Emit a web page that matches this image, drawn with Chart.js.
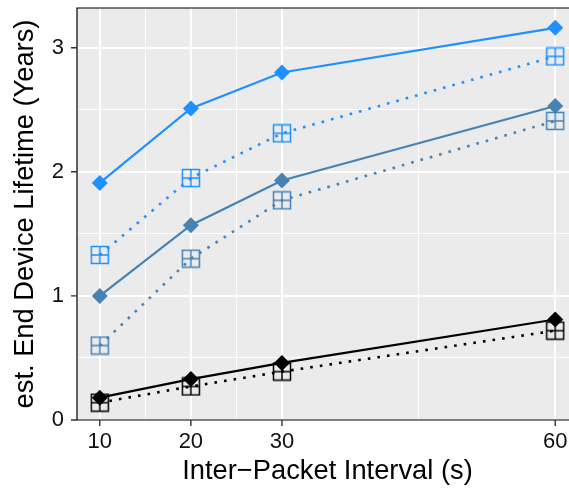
<!DOCTYPE html>
<html>
<head>
<meta charset="utf-8">
<script src="https://cdn.jsdelivr.net/npm/chart.js@4/dist/chart.umd.min.js"></script>
<style>
  html, body { margin: 0; padding: 0; background: #fff; overflow: hidden; }
  #wrap { width: 578px; height: 491px; }
</style>
</head>
<body>
<div id="wrap"><canvas id="chart"></canvas></div>
<script>
// data
const intervals = [10, 20, 30, 60];
const blueSolid = [1.91, 2.51, 2.80, 3.16];
const blueDotted = [1.33, 1.95, 2.31, 2.93];
const steelSolid = [1.00, 1.57, 1.93, 2.53];
const steelDotted = [0.60, 1.30, 1.77, 2.41];
const blackSolid = [0.18, 0.33, 0.46, 0.81];
const blackDotted = [0.14, 0.27, 0.39, 0.72];

const xMajor = [10, 20, 30, 60];
const xMinor = [15, 25, 45];
const yMajor = [0, 1, 2, 3];
const yMinor = [0.5, 1.5, 2.5];

const BLUE = '#1E90FF', STEEL = '#4682B4', BLACK = '#000000';

// square with a cross (ggplot shape 12)
function squareCross(color) {
  const s = 20;
  const c = document.createElement('canvas');
  c.width = s; c.height = s;
  const g = c.getContext('2d');
  g.strokeStyle = color;
  g.lineWidth = 1.5;
  g.strokeRect(1.5, 1.5, s - 3, s - 3);
  g.beginPath();
  g.moveTo(s / 2, 1.5); g.lineTo(s / 2, s - 1.5);
  g.moveTo(1.5, s / 2); g.lineTo(s - 1.5, s / 2);
  g.stroke();
  return c;
}

function toPoints(vals) {
  return vals.map((v, i) => ({ x: intervals[i], y: v }));
}

function solid(vals, color) {
  return {
    data: toPoints(vals),
    borderColor: color,
    backgroundColor: color,
    borderWidth: 2.2,
    pointStyle: 'rectRot',
    pointRadius: 8,
    pointBorderWidth: 0,
    pointBackgroundColor: color
  };
}

function dotted(vals, color) {
  return {
    data: toPoints(vals),
    borderColor: color,
    backgroundColor: color,
    borderWidth: 2.6,
    borderDash: [2.6, 7.1],
    pointStyle: squareCross(color),
    pointRadius: 10
  };
}

// grey panel, black border, tick marks
const panelPlugin = {
  id: 'panel',
  beforeDraw(chart) {
    const { ctx, chartArea: a } = chart;
    ctx.save();
    ctx.fillStyle = '#EBEBEB';
    ctx.fillRect(a.left, a.top, a.right - a.left, a.bottom - a.top);
    ctx.restore();
  },
  afterDraw(chart) {
    const { ctx, chartArea: a, scales } = chart;
    ctx.save();
    ctx.strokeStyle = '#000';
    ctx.lineWidth = 1.2;
    ctx.beginPath();
    ctx.moveTo(a.right, a.top); ctx.lineTo(a.left, a.top);
    ctx.lineTo(a.left, a.bottom); ctx.lineTo(a.right, a.bottom);
    ctx.stroke();
    ctx.strokeStyle = '#333';
    ctx.lineWidth = 1.4;
    ctx.beginPath();
    yMajor.forEach(v => {
      const y = scales.y.getPixelForValue(v);
      ctx.moveTo(a.left - 6, y); ctx.lineTo(a.left, y);
    });
    xMajor.forEach(v => {
      const x = scales.x.getPixelForValue(v);
      ctx.moveTo(x, a.bottom); ctx.lineTo(x, a.bottom + 6);
    });
    ctx.stroke();
    ctx.restore();
  }
};

const tickFont = { family: 'Liberation Sans, Arial, sans-serif', size: 22 };
const titleFont = { family: 'Liberation Sans, Arial, sans-serif', size: 27.3 };

new Chart(document.getElementById('chart'), {
  type: 'line',
  data: {
    datasets: [
      solid(blueSolid, BLUE),
      dotted(blueDotted, BLUE),
      solid(steelSolid, STEEL),
      dotted(steelDotted, STEEL),
      dotted(blackDotted, BLACK),
      solid(blackSolid, BLACK)
    ]
  },
  options: {
    responsive: true,
    maintainAspectRatio: false,
    animation: false,
    layout: { autoPadding: false, padding: { top: 8, right: 0, left: 0, bottom: 0 } },
    plugins: { legend: { display: false }, tooltip: { enabled: false } },
    scales: {
      x: {
        type: 'linear',
        min: 7.5,
        max: 62.5,
        afterBuildTicks: s => { s.ticks = xMajor.concat(xMinor).sort((a, b) => a - b).map(v => ({ value: v })); },
        afterFit: s => { s.height = 71; s.paddingLeft = 0; s.paddingRight = 0; },
        ticks: {
          autoSkip: false,
          maxRotation: 0,
          padding: 9,
          color: '#111',
          font: tickFont,
          callback: v => xMajor.includes(v) ? String(v) : ''
        },
        grid: {
          color: '#FFFFFF',
          drawTicks: false,
          lineWidth: c => xMinor.includes(c.tick && c.tick.value) ? 0.9 : 1.9
        },
        border: { display: false },
        title: {
          display: true,
          text: 'Inter\u2212Packet Interval (s)',
          color: '#000',
          font: titleFont,
          padding: { top: 0, bottom: 3 }
        }
      },
      y: {
        min: 0,
        max: 3.32,
        afterBuildTicks: s => { s.ticks = yMajor.concat(yMinor).sort((a, b) => a - b).map(v => ({ value: v })); },
        afterFit: s => { s.width = 77; s.paddingTop = 0; s.paddingBottom = 0; },
        ticks: {
          autoSkip: false,
          padding: 13,
          color: '#111',
          font: tickFont,
          callback: v => yMajor.includes(v) ? String(v) : ''
        },
        grid: {
          color: '#FFFFFF',
          drawTicks: false,
          lineWidth: c => yMinor.includes(c.tick && c.tick.value) ? 0.9 : 1.9
        },
        border: { display: false },
        title: {
          display: true,
          text: 'est. End Device Lifetime (Years)',
          color: '#000',
          font: titleFont,
          padding: { top: 9, bottom: 0 }
        }
      }
    }
  },
  plugins: [panelPlugin]
});
</script>
</body>
</html>
